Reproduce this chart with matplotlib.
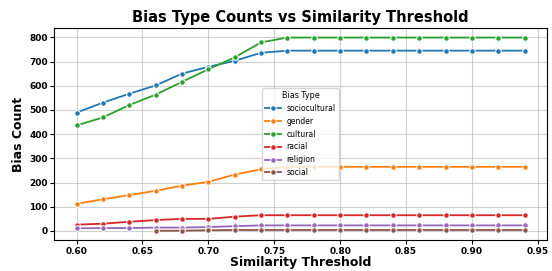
import pandas as pd
import seaborn as sns
import matplotlib
matplotlib.use("Agg")
import matplotlib.pyplot as plt

thresholds = [0.60, 0.62, 0.64, 0.66, 0.68, 0.70, 0.72, 0.74, 0.76, 0.78,
              0.80, 0.82, 0.84, 0.86, 0.88, 0.90, 0.92, 0.94]
sociocultural = [489, 530, 567, 601, 650, 678, 703, 736, 745, 745,
                 745, 745, 745, 745, 745, 745, 745, 745]
gender = [112, 131, 148, 166, 187, 203, 233, 255, 265, 265,
          265, 265, 265, 265, 265, 265, 265, 265]
cultural = [436, 469, 520, 563, 616, 668, 717, 779, 799, 799,
            799, 799, 799, 799, 799, 799, 799, 799]
racial = [26, 30, 38, 45, 50, 50, 59, 65, 65, 65,
          65, 65, 65, 65, 65, 65, 65, 65]
religion = [11, 12, 12, 14, 14, 16, 20, 23, 23, 23,
            23, 23, 23, 23, 23, 23, 23, 23]
# social has no entries below 0.66
social = [None, None, None, 1, 1, 3, 4, 4, 4, 4,
          4, 4, 4, 4, 4, 4, 4, 4]

series = {
    "sociocultural": sociocultural,
    "gender": gender,
    "cultural": cultural,
    "racial": racial,
    "religion": religion,
    "social": social,
}

rows = []
for name, vals in series.items():
    for t, v in zip(thresholds, vals):
        if v is not None:
            rows.append({"Similarity Threshold": t, "Bias Count": v, "Bias Type": name})
df = pd.DataFrame(rows)

fig, ax = plt.subplots(figsize=(5.52, 2.71), dpi=100)
sns.lineplot(data=df, x="Similarity Threshold", y="Bias Count", hue="Bias Type",
             marker="o", markersize=4, linewidth=1.3, ax=ax)

ax.set_title("Bias Type Counts vs Similarity Threshold", fontsize=10.5, fontweight="bold", pad=4)
ax.set_xlabel("Similarity Threshold", fontsize=9, fontweight="bold", labelpad=0)
ax.set_ylabel("Bias Count", fontsize=9, fontweight="bold", labelpad=3)
ax.set_xticks([0.60, 0.65, 0.70, 0.75, 0.80, 0.85, 0.90, 0.95])
ax.set_yticks([0, 100, 200, 300, 400, 500, 600, 700, 800])
ax.tick_params(labelsize=6.5, pad=1.5, length=3)
for lab in ax.get_xticklabels() + ax.get_yticklabels():
    lab.set_fontweight("bold")
ax.grid(True, alpha=0.6)
ax.legend(title="Bias Type", loc="center", fontsize=5.5, title_fontsize=5.8)

fig.subplots_adjust(left=0.098, right=0.991, top=0.897, bottom=0.113)
fig.savefig("out.png")
